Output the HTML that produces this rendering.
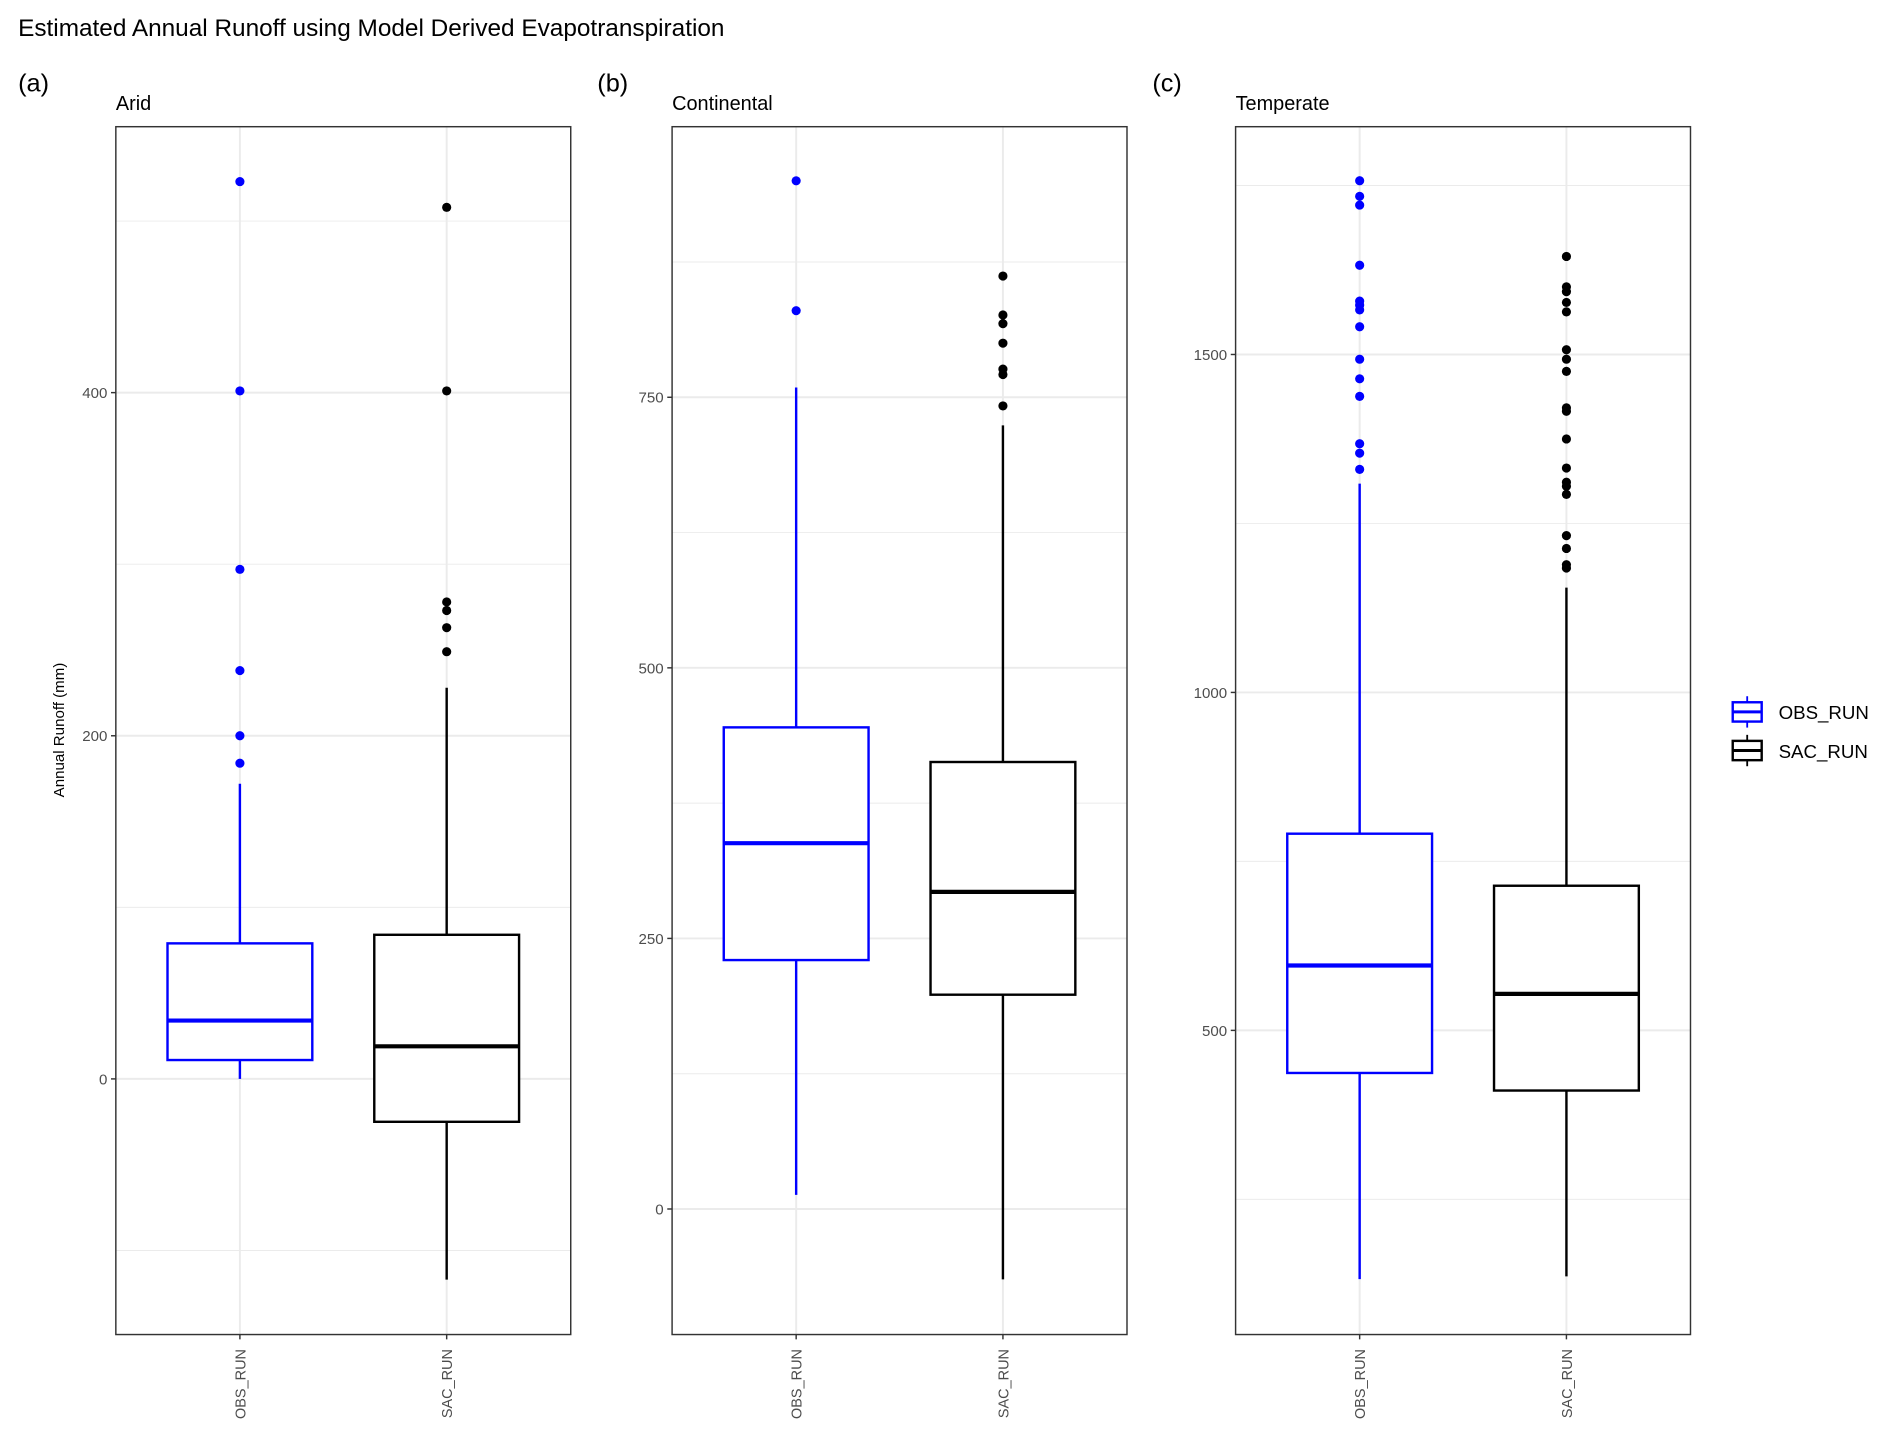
<!DOCTYPE html>
<html><head><meta charset="utf-8"><style>
html,body{margin:0;padding:0;background:#fff}
svg{display:block;font-family:"Liberation Sans",Arial,sans-serif}
</style></head><body>
<svg id="chart" width="1892" height="1440" viewBox="0 0 1568 1193.4" preserveAspectRatio="none">
<text x="15" y="30" font-size="20.2" fill="#000">Estimated Annual Runoff using Model Derived Evapotranspiration</text>
<text x="53" y="605" font-size="12.5" fill="#000" transform="rotate(-90 53 605)" text-anchor="middle">Annual Runoff (mm)</text>
<g id="legend">
 <g>
  <line x1="1448" y1="577" x2="1448" y2="603" stroke="#0000ff" stroke-width="1.5"/>
  <rect x="1436" y="582" width="24" height="16" fill="#fff" stroke="#0000ff" stroke-width="2"/>
  <line x1="1436" y1="590" x2="1460" y2="590" stroke="#0000ff" stroke-width="2.5"/>
  <text x="1474" y="596" font-size="15.5">OBS_RUN</text>
 </g>
 <g>
  <line x1="1448" y1="609" x2="1448" y2="635" stroke="#000" stroke-width="1.5"/>
  <rect x="1436" y="614" width="24" height="16" fill="#fff" stroke="#000" stroke-width="2"/>
  <line x1="1436" y1="622" x2="1460" y2="622" stroke="#000" stroke-width="2.5"/>
  <text x="1474" y="628" font-size="15.5">SAC_RUN</text>
 </g>
</g>
</svg>
<script>
const panelNames = ["Arid", "Continental", "Temperate"];
const panelTags = ["(a)", "(b)", "(c)"];
const categories = ["OBS_RUN", "SAC_RUN"];
const colors = ["#0000ff", "#000000"];
const aridDomain = [-149, 555];
const contDomain = [-116, 1000];
const tempDomain = [50, 1837];
const aridTicks = [0, 200, 400];
const contTicks = [0, 250, 500, 750];
const tempTicks = [500, 1000, 1500];
const aridMinor = [-100, 100, 300, 500];
const contMinor = [125, 375, 625, 875];
const tempMinor = [250, 750, 1250, 1750];
const aridObsStats = [0, 11, 34, 79, 172];
const aridSacStats = [-117, -25, 19, 84, 228];
const contObsStats = [13, 230, 338, 445, 759];
const contSacStats = [-65, 198, 293, 413, 724];
const tempObsStats = [132, 437, 596, 791, 1309];
const tempSacStats = [136, 411, 554, 714, 1155];
const aridObsOut = [184, 200, 238, 297, 401, 523];
const aridSacOut = [249, 263, 273, 278, 401, 508];
const contObsOut = [830, 950];
const contSacOut = [742, 771, 776, 800, 818, 826, 862];
const tempObsOut = [1330, 1354, 1368, 1438, 1464, 1493, 1541, 1566, 1573, 1579, 1632, 1721, 1734, 1757];
const tempSacOut = [1184, 1189, 1213, 1232, 1293, 1305, 1311, 1332, 1375, 1416, 1421, 1475, 1493, 1507, 1563, 1577, 1593, 1600, 1645];

const panels = [
 {domain: aridDomain, ticks: aridTicks, minor: aridMinor, stats: [aridObsStats, aridSacStats], out: [aridObsOut, aridSacOut]},
 {domain: contDomain, ticks: contTicks, minor: contMinor, stats: [contObsStats, contSacStats], out: [contObsOut, contSacOut]},
 {domain: tempDomain, ticks: tempTicks, minor: tempMinor, stats: [tempObsStats, tempSacStats], out: [tempObsOut, tempSacOut]}
];
const lefts = [96, 557, 1024];
const tagX = [15, 495, 955];
const PW = 377, TOP = 105, BOT = 1106;
const NS = "http://www.w3.org/2000/svg";
const svg = document.getElementById("chart");
function mk(tag, attrs, parent) {
  const e = document.createElementNS(NS, tag);
  for (const k in attrs) e.setAttribute(k, attrs[k]);
  (parent || svg).appendChild(e);
  return e;
}
panels.forEach((p, pi) => {
  const L = lefts[pi];
  const y = v => BOT - (v - p.domain[0]) / (p.domain[1] - p.domain[0]) * (BOT - TOP);
  const unit = PW / 2.2;
  const x = i => L + (i + 0.6) * unit;
  const g = mk("g", {});
  
  
  const tag = mk("text", {x: tagX[pi], y: 76, "font-size": 21}, g);
  tag.textContent = panelTags[pi];
  
  
  const st = mk("text", {x: L, y: 91, "font-size": 16.5}, g);
  st.textContent = panelNames[pi];
  
  
  p.minor.forEach(v => { mk("line", {x1: L, x2: L + PW, y1: y(v), y2: y(v), stroke: "#ebebeb", "stroke-width": 0.8}, g); });
  p.ticks.forEach(v => {
    mk("line", {x1: L, x2: L + PW, y1: y(v), y2: y(v), stroke: "#ebebeb", "stroke-width": 1.6}, g);
    mk("line", {x1: L - 4, x2: L, y1: y(v), y2: y(v), stroke: "#333", "stroke-width": 1.2}, g);
    const t = mk("text", {x: L - 7, y: y(v) + 4.5, "font-size": 12.5, fill: "#4d4d4d", "text-anchor": "end"}, g);
    t.textContent = v;
    
    
  });
  categories.forEach((c, ci) => {
    const cx = x(ci);
    mk("line", {x1: cx, x2: cx, y1: TOP, y2: BOT, stroke: "#ebebeb", "stroke-width": 1.6}, g);
    mk("line", {x1: cx, x2: cx, y1: BOT, y2: BOT + 4, stroke: "#333", "stroke-width": 1.2}, g);
    const t = mk("text", {x: cx + 4.5, y: BOT + 12, "font-size": 12, fill: "#4d4d4d", "text-anchor": "end", transform: `rotate(-90 ${cx + 4.5} ${BOT + 12})`}, g);
    t.textContent = c;
    
    
  });
  categories.forEach((c, ci) => {
    const s = p.stats[ci], col = colors[ci], cx = x(ci), hw = 60;
    const bg = mk("g", {}, g);
    
    
    mk("line", {x1: cx, x2: cx, y1: y(s[0]), y2: y(s[1]), stroke: col, "stroke-width": 2}, bg);
    mk("line", {x1: cx, x2: cx, y1: y(s[3]), y2: y(s[4]), stroke: col, "stroke-width": 2}, bg);
    mk("rect", {x: cx - hw, y: y(s[3]), width: 2 * hw, height: y(s[1]) - y(s[3]), fill: "#fff", stroke: col, "stroke-width": 2}, bg);
    mk("line", {x1: cx - hw, x2: cx + hw, y1: y(s[2]), y2: y(s[2]), stroke: col, "stroke-width": 3.5}, bg);
    p.out[ci].forEach(v => {
      const pt = mk("circle", {cx: cx, cy: y(v), r: 3.8, fill: col}, bg);
      
      
    });
  });
  mk("rect", {x: L, y: TOP, width: PW, height: BOT - TOP, fill: "none", stroke: "#333", "stroke-width": 1.2}, g);
});
</script>
</body></html>
